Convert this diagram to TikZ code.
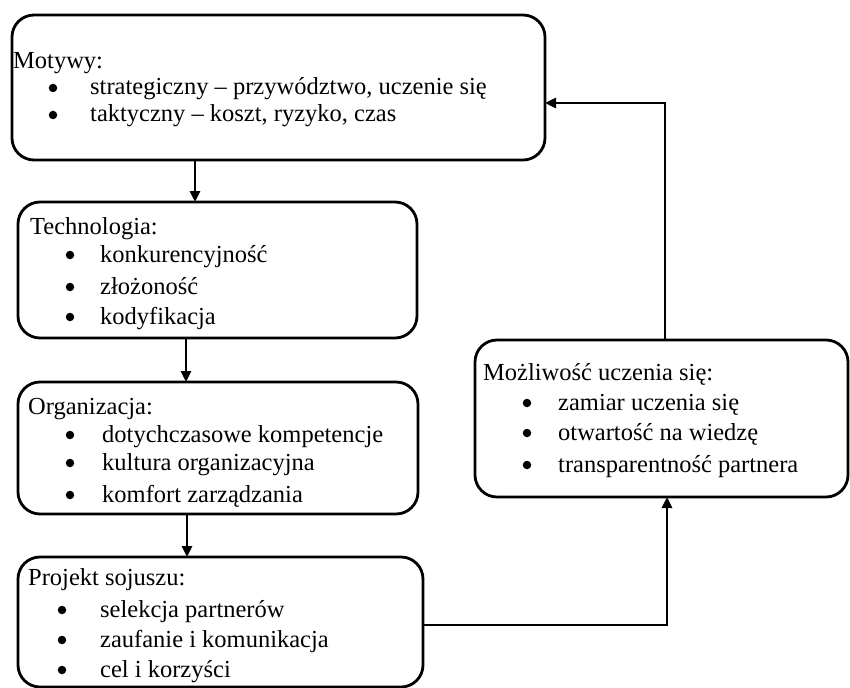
\documentclass[tikz,border=0pt]{standalone}
\usepackage{fontspec}
\setmainfont{Liberation Serif}
\usetikzlibrary{arrows.meta}
\begin{document}
\begin{tikzpicture}[x=1pt,y=-1pt,
  box/.style={draw=black,line width=2.8pt,rounded corners=22pt,inner sep=0pt,outer sep=0pt,anchor=north west},
  txt/.style={anchor=base west,inner sep=0pt,font=\fontsize{24.5}{30}\selectfont},
  bul/.style={circle,fill=black,inner sep=0pt,minimum size=8.5pt},
  arr/.style={line width=2.8pt,-{Triangle[length=11pt,width=10pt]}}]
\useasboundingbox[fill=white] (0,0) rectangle (850,687);
% boxes
\node[box,minimum width=533pt,minimum height=145pt] (mot) at (12,15) {};
\node[box,minimum width=399pt,minimum height=136pt] (tech) at (18,202) {};
\node[box,minimum width=400pt,minimum height=132pt] (org) at (18,382) {};
\node[box,minimum width=405pt,minimum height=130pt] (proj) at (18,557) {};
\node[box,minimum width=373pt,minimum height=157pt] (mos) at (475,340) {};
% Motywy
\node[txt] (t1) at (13,69) {Motywy:};
\node[bul] (b11) at (53,88) {};
\node[txt] (t11) at (90,95) {strategiczny – przywództwo, uczenie się};
\node[bul] (b12) at (53,115) {};
\node[txt] (t12) at (90,122) {taktyczny – koszt, ryzyko, czas};
% Technologia
\node[txt] (t2) at (30,234) {Technologia:};
\node[bul] (b21) at (70,255) {};
\node[txt] (t21) at (100,262) {konkurencyjność};
\node[bul] (b22) at (70,287) {};
\node[txt] (t22) at (100,294) {złożoność};
\node[bul] (b23) at (70,317) {};
\node[txt] (t23) at (100,324) {kodyfikacja};
% Organizacja
\node[txt] (t3) at (28,414) {Organizacja:};
\node[bul] (b31) at (70,435) {};
\node[txt] (t31) at (102,442) {dotychczasowe kompetencje};
\node[bul] (b32) at (70,463) {};
\node[txt] (t32) at (102,470) {kultura organizacyjna};
\node[bul] (b33) at (70,495) {};
\node[txt] (t33) at (102,502) {komfort zarządzania};
% Projekt
\node[txt] (t4) at (28,585) {Projekt sojuszu:};
\node[bul] (b41) at (62,610) {};
\node[txt] (t41) at (100,617) {selekcja partnerów};
\node[bul] (b42) at (62,640) {};
\node[txt] (t42) at (100,647) {zaufanie i komunikacja};
\node[bul] (b43) at (62,670) {};
\node[txt] (t43) at (100,677) {cel i korzyści};
% Mozliwosc
\node[txt] (t5) at (483,380) {Możliwość uczenia się:};
\node[bul] (b51) at (527,403) {};
\node[txt] (t51) at (558,410) {zamiar uczenia się};
\node[bul] (b52) at (527,433) {};
\node[txt] (t52) at (558,440) {otwartość na wiedzę};
\node[bul] (b53) at (527,465) {};
\node[txt] (t53) at (558,472) {transparentność partnera};
% connectors
\draw[arr] (195,0 |- mot.south) -- (195,0 |- tech.north);
\draw[arr] (186,0 |- tech.south) -- (186,0 |- org.north);
\draw[arr] (187,0 |- org.south) -- (187,0 |- proj.north);
\draw[arr] (proj.east |- 0,625) -- (667,625) -- (667,0 |- mos.south);
\draw[arr] (665,0 |- mos.north) -- (665,103) -- (mot.east |- 0,103);
\end{tikzpicture}
\end{document}
